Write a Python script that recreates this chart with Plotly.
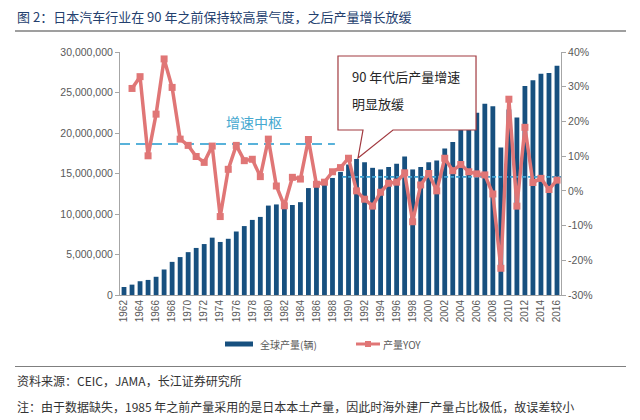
import plotly.graph_objects as go
from plotly.subplots import make_subplots

years = [1962, 1963, 1964, 1965, 1966, 1967, 1968, 1969, 1970, 1971,
         1972, 1973, 1974, 1975, 1976, 1977, 1978, 1979, 1980, 1981,
         1982, 1983, 1984, 1985, 1986, 1987, 1988, 1989, 1990, 1991,
         1992, 1993, 1994, 1995, 1996, 1997, 1998, 1999, 2000, 2001,
         2002, 2003, 2004, 2005, 2006, 2007, 2008, 2009, 2010, 2011,
         2012, 2013, 2014, 2015, 2016]

production = [990000, 1280000, 1700000, 1860000, 2250000, 3150000, 4090000, 4680000, 5290000, 5810000,
              6290000, 7080000, 6550000, 6940000, 7840000, 8510000, 9270000, 9640000, 11040000, 11180000,
              10730000, 11110000, 11460000, 13200000, 13500000, 13600000, 14450000, 15200000, 16100000, 16800000,
              16400000, 15700000, 15500000, 15800000, 16200000, 17100000, 15500000, 15800000, 16400000, 16600000,
              18100000, 18900000, 20700000, 21600000, 22500000, 23600000, 23300000, 18200000, 22900000, 21900000,
              25800000, 26500000, 27300000, 27400000, 28300000]

yoy = [None, 29.5, 32.9, 10.1, 22.1, 38.0, 29.8, 14.9, 13.1, 9.9,
       8.2, 12.9, -7.4, 6.2, 13.1, 8.7, 9.1, 4.1, 14.9, 1.4,
       -4.3, 3.9, 3.4, 14.8, 1.9, 2.5, 5.5, 6.7, 9.4, 0.0,
       -2.4, -4.4, -0.4, 2.2, 2.5, 5.2, -8.9, 1.7, 5.0, 0.0,
       9.4, 5.8, 7.6, 5.5, 4.9, 4.6, -0.9, -22.3, 26.4, -4.4,
       18.3, 2.4, 3.6, 0.4, 3.1]

# growth centre reference levels (%), and the periods they cover
center_pre = 13.5
center_pre_span = [1961.5, 1988.3]
center_post = 4.0
center_post_span = [1989.2, 2016.5]

left_ticks = [0, 5000000, 10000000, 15000000, 20000000, 25000000, 30000000]
right_ticks = [-30, -20, -10, 0, 10, 20, 30, 40]
right_tick_labels = ["-30%", "-20%", "-10%", "0%", "10%", "20%", "30%", "40%"]

title_text = "图 2：日本汽车行业在 90 年之前保持较高景气度，之后产量增长放缓"
bar_name = "全球产量(辆)"
line_name = "产量YOY"
center_label = "增速中枢"
callout_lines = ["90 年代后产量增速", "明显放缓"]
source_text = "资料来源：CEIC，JAMA，长江证券研究所"
note_text = "注：由于数据缺失，1985 年之前产量采用的是日本本土产量，因此时海外建厂产量占比极低，故误差较小"

BAR_C = "#17507F"
LINE_C = "#E07676"
DASH_C = "#58B2DA"
GRAY = "#595959"
AX = "#A6A6A6"
FONT = "Liberation Sans, Arial, Noto Sans CJK SC, sans-serif"
CJK = "Noto Sans CJK SC, Liberation Sans, sans-serif"

W, H = 640, 420
L, R, T, B = 120, 79, 52, 125
PW, PH = W - L - R, H - T - B


def px(x):
    return (x - L) / PW


def py(y):
    return (H - B - y) / PH


fig = make_subplots(specs=[[{"secondary_y": True}]])

fig.add_trace(go.Bar(x=years, y=production, name=bar_name, marker_color=BAR_C,
                     marker_line_width=0, width=0.6, showlegend=False), secondary_y=False)

fig.add_trace(go.Scatter(x=center_pre_span, y=[center_pre, center_pre], mode="lines",
                         line=dict(color=DASH_C, width=2, dash="10px,6px"),
                         showlegend=False, hoverinfo="skip"), secondary_y=True)
fig.add_trace(go.Scatter(x=center_post_span, y=[center_post, center_post], mode="lines",
                         line=dict(color="#3FA3D3", width=1.8, dash="4px,2px"),
                         showlegend=False, hoverinfo="skip"), secondary_y=True)

fig.add_trace(go.Scatter(x=years, y=yoy, name=line_name, mode="lines+markers",
                         line=dict(color=LINE_C, width=3.5),
                         marker=dict(symbol="square", size=7, color=LINE_C),
                         showlegend=False), secondary_y=True)

shapes = []
# title rule and source rule
shapes.append(dict(type="line", xref="paper", yref="paper", x0=px(15), x1=px(626), y0=py(31), y1=py(31),
                   line=dict(color="#7F7F7F", width=1.5)))
shapes.append(dict(type="line", xref="paper", yref="paper", x0=px(15), x1=px(626), y0=py(366.5), y1=py(366.5),
                   line=dict(color="#7F7F7F", width=1.2)))
# callout box
pts = [(338, 56), (476, 56), (476, 130), (393, 130), (358, 158), (363, 130), (338, 130)]
path = "M " + " L ".join(f"{px(a):.4f},{py(b):.4f}" for a, b in pts) + " Z"
shapes.append(dict(type="path", xref="paper", yref="paper", path=path, fillcolor="white",
                   line=dict(color="#A23A40", width=1.2), layer="above"))
# custom legend
shapes.append(dict(type="rect", xref="paper", yref="paper", x0=px(225), x1=px(253), y0=py(341.5), y1=py(346.5),
                   fillcolor=BAR_C, line=dict(width=0)))
shapes.append(dict(type="line", xref="paper", yref="paper", x0=px(356), x1=px(380), y0=py(344), y1=py(344),
                   line=dict(color=LINE_C, width=3)))
shapes.append(dict(type="rect", xref="paper", yref="paper", x0=px(365), x1=px(371), y0=py(341), y1=py(347),
                   fillcolor=LINE_C, line=dict(width=0)))

annotations = [
    dict(text=title_text, xref="paper", yref="paper", x=px(15), y=py(16), xanchor="left", yanchor="middle",
         showarrow=False, font=dict(family=CJK, size=13, color="#24406E")),
    dict(text=center_label, xref="paper", yref="paper", x=px(254), y=py(122), xanchor="center", yanchor="middle",
         showarrow=False, font=dict(family=CJK, size=14, color="#45A8D0")),
    dict(text=callout_lines[0], xref="paper", yref="paper", x=px(350), y=py(76), xanchor="left", yanchor="middle",
         showarrow=False, font=dict(family=CJK, size=13, color="#262626")),
    dict(text=callout_lines[1], xref="paper", yref="paper", x=px(350), y=py(103), xanchor="left", yanchor="middle",
         showarrow=False, font=dict(family=CJK, size=13, color="#262626")),
    dict(text=bar_name, xref="paper", yref="paper", x=px(258), y=py(344), xanchor="left", yanchor="middle",
         showarrow=False, font=dict(family=CJK, size=10, color=GRAY)),
    dict(text=line_name, xref="paper", yref="paper", x=px(381), y=py(344), xanchor="left", yanchor="middle",
         showarrow=False, font=dict(family=CJK, size=10, color=GRAY)),
    dict(text=source_text, xref="paper", yref="paper", x=px(15), y=py(380), xanchor="left", yanchor="middle",
         showarrow=False, font=dict(family=CJK, size=12, color="#333333")),
    dict(text=note_text, xref="paper", yref="paper", x=px(15), y=py(406.5), xanchor="left", yanchor="middle",
         showarrow=False, font=dict(family=CJK, size=12, color="#333333")),
]

fig.update_layout(
    width=W, height=H,
    margin=dict(l=L, r=R, t=T, b=B, pad=0),
    paper_bgcolor="white", plot_bgcolor="white",
    font=dict(family=FONT, size=10, color=GRAY),
    showlegend=False,
    bargap=0.25,
    shapes=shapes,
    annotations=annotations,
)

fig.update_xaxes(domain=[0, 1], range=[1961.5, 2016.5], tickvals=years[::2], ticktext=[str(y) for y in years[::2]],
                 tickangle=-90, tickfont=dict(size=10, color=GRAY), showgrid=False, zeroline=False,
                 showline=True, linecolor=AX, linewidth=1, ticks="")

fig.update_yaxes(range=[0, 30000000], tickvals=left_ticks, tickformat=",d", showgrid=False, zeroline=False,
                 showline=True, linecolor=AX, linewidth=1, ticks="outside", ticklen=4, tickcolor=AX,
                 tickfont=dict(size=10.5, color=GRAY), secondary_y=False)

fig.update_yaxes(range=[-30, 40], tickvals=right_ticks, ticktext=right_tick_labels, showgrid=False, zeroline=False,
                 showline=True, linecolor=AX, linewidth=1, ticks="outside", ticklen=4, tickcolor=AX,
                 tickfont=dict(size=10.5, color=GRAY), secondary_y=True)

fig.write_html("out.html")
